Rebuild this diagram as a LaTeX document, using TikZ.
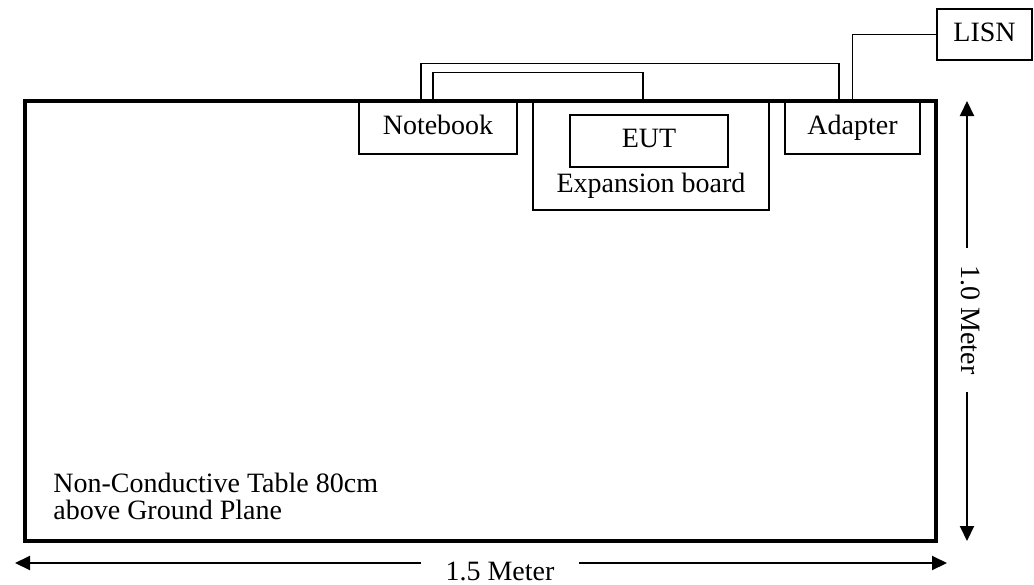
\documentclass[tikz,border=0pt]{standalone}
\usepackage{fontspec}
\setmainfont{Liberation Serif}
\usepackage{tikz}
\usetikzlibrary{arrows.meta, positioning, calc}

\begin{document}
\begin{tikzpicture}[
  x=0.5pt, y=-0.5pt,
  txt/.style={font=\fontsize{14}{13.5}\selectfont},
  box/.style={draw, line width=0.75pt, inner sep=0pt, txt, text height=9.5pt, text depth=3pt},
  tablebox/.style={draw, line width=1.75pt, minimum width=455.5pt, minimum height=220pt},
  cable/.style={draw, line width=0.6pt},
  dim/.style={-{Triangle[length=7.5pt, width=7pt]}, line width=1pt},
  dimlabel/.style={txt, inner sep=0pt}
]
\useasboundingbox (0,0) rectangle (1034,584);

% Table
\node[tablebox] (table) at (480.5,321) {};
\node[txt, anchor=south west, align=left, inner sep=0pt] (tabletext) at (53,520)
  {Non-Conductive Table 80cm\\above Ground Plane};

% Equipment on the table
\node[box, minimum width=79pt, minimum height=26pt] (notebook) at (438,128) {Notebook};
\node[box, minimum width=118pt, minimum height=54pt] (board) at (651,156) {};
\node[box, minimum width=79pt, minimum height=26pt] (eut) at (649,141) {EUT};
\node[txt, anchor=base, inner sep=0pt] (boardtext) at (651,192) {Expansion board};
\node[box, minimum width=67.5pt, minimum height=26pt] (adapter) at (852.5,128) {Adapter};

% LISN
\node[box, minimum width=47.5pt, minimum height=25.5pt] (lisn) at (984.5,34.5) {LISN};

% Cables
\draw[cable] ([xshift=-8.5pt]notebook.north) -- ++(0,-38) -| ([xshift=-6.75pt]adapter.north);
\draw[cable] ([xshift=-2.5pt]notebook.north) -- ++(0,-29) -| ([xshift=-4pt]board.north);
\draw[cable] (adapter.north) |- (lisn.west);

% Dimensions
\coordinate (vtop) at (967,101);
\coordinate (vbot) at (967,541);
\node[dimlabel, rotate=-90, inner xsep=8.5pt] (vlabel) at (971,320) {1.0 Meter};
\draw[dim] (vtop |- vlabel.west) -- (vtop);
\draw[dim] (vbot |- vlabel.east) -- (vbot);

\coordinate (hleft) at (15,563);
\coordinate (hright) at (947,563);
\node[dimlabel, inner xsep=12pt] (hlabel) at (500,571) {1.5 Meter};
\draw[dim] (hlabel.west |- hleft) -- (hleft);
\draw[dim] (hlabel.east |- hright) -- (hright);

\end{tikzpicture}
\end{document}
